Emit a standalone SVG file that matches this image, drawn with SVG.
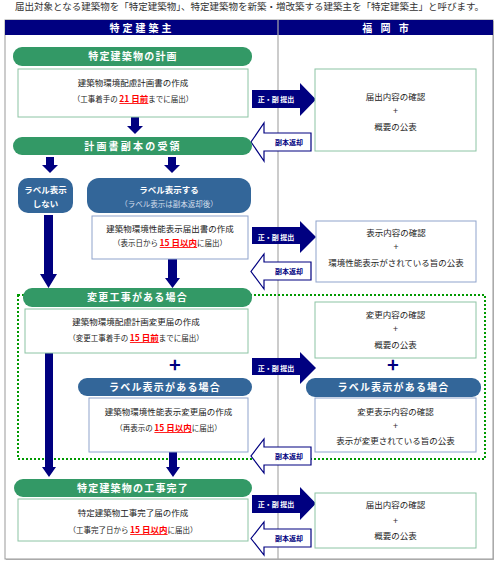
<svg xmlns="http://www.w3.org/2000/svg" width="498" height="564" viewBox="0 0 498 564">
<style>
text{font-family:"Noto Sans CJK JP","Noto Sans CJK SC",sans-serif}
.title{font-size:9.5px;fill:#333}
.hd{font-size:10px;font-weight:bold;fill:#fff;letter-spacing:3px}
.gbar{fill:#339966}
.bbar{fill:#336699}
.bt{font-size:10px;font-weight:bold;fill:#fff;letter-spacing:1.2px}
.bs{font-size:8.5px;font-weight:bold;fill:#fff}
.sub{font-size:7.5px;fill:#d4deeb}
.gbox{fill:#fff;stroke:#8cc4a4;stroke-width:1}
.blbox{fill:#fff;stroke:#8fa3cc;stroke-width:1}
.t1{font-size:8.5px;fill:#222}
.t2{font-size:7.5px;fill:#222}
.red{font-size:8.5px;font-weight:bold;fill:#ff0000;text-decoration:underline}
.plus{font-size:9px;fill:#333}
.bigplus{font-size:20px;font-weight:bold;fill:#000080}
.darr{fill:#000080}
.rarr{fill:#000080}
.rt{font-size:7px;font-weight:bold;fill:#fff}
.larr{fill:#fff;stroke:#000080;stroke-width:1.2}
.lt{font-size:7px;font-weight:bold;fill:#000080}
</style>

<text class="title" x="15" y="10">届出対象となる建築物を「特定建築物」、特定建築物を新築・増改築する建築主を「特定建築主」と呼びます。</text>

<g id="frame">
<rect x="6" y="21" width="488" height="539" fill="#bbb"/>
<rect x="5" y="20" width="488" height="539" fill="#fff" stroke="#999" stroke-width="1"/>
<rect x="5" y="20" width="488" height="15" fill="#000080"/>
<line x1="278" y1="20" x2="278" y2="559" stroke="#aaa" stroke-width="1.2"/>
<text class="hd" x="142" y="31.5" text-anchor="middle">特定建築主</text>
<text class="hd" x="387" y="31.5" text-anchor="middle" xml:space="preserve">福 岡 市</text>
</g>

<g id="change-area">
<rect x="18" y="295" width="467" height="164" fill="none" stroke="#009900" stroke-width="2" stroke-dasharray="2,2"/>
</g>

<g id="connectors">
<!-- down arrows -->
<polygon class="darr" points="131,117 139,117 139,126 143,126 135,134 127,126 131,126"/>
<polygon class="darr" points="46,157 54,157 54,165 58,165 50,173 42,165 46,165"/>
<polygon class="darr" points="168,157 176,157 176,165 180,165 172,173 164,165 168,165"/>
<polygon class="darr" points="44,215 53,215 53,274 57,274 48.5,288 40,274 44,274"/>
<polygon class="darr" points="168,259 177,259 177,278 180,278 172.5,288 165,278 168,278"/>
<polygon class="darr" points="45,353 53,353 53,467 56,467 49,477 42,467 45,467"/>
<polygon class="darr" points="169,452 177,452 177,467 180,467 173,477 166,467 169,467"/>
<!-- right submit arrows -->
<polygon class="rarr" points="252,90 300,90 300,83 316,99.5 300,116 300,108 252,108"/>
<text class="rt" x="276" y="102" text-anchor="middle">正・副 提出</text>
<polygon class="rarr" points="252,227 300,227 300,221 316,237 300,253 300,244 252,244"/>
<text class="rt" x="276" y="239.5" text-anchor="middle">正・副 提出</text>
<polygon class="rarr" points="252,358 300,358 300,352 316,368 300,384 300,375 252,375"/>
<text class="rt" x="276" y="370.5" text-anchor="middle">正・副 提出</text>
<polygon class="rarr" points="252,495 300,495 300,487 316,503.5 300,520 300,513 252,513"/>
<text class="rt" x="276" y="506.5" text-anchor="middle">正・副 提出</text>
<!-- return arrows -->
<polygon class="larr" points="311,133 264,133 264,123 251,142 264,161 264,151 311,151"/>
<text class="lt" x="289" y="144.5" text-anchor="middle">副本返却</text>
<polygon class="larr" points="311,262 264,262 264,254 251,271.5 264,289 264,280 311,280"/>
<text class="lt" x="289" y="274" text-anchor="middle">副本返却</text>
<polygon class="larr" points="311,447 264,447 264,439 251,456 264,473 264,465 311,465"/>
<text class="lt" x="289" y="458.5" text-anchor="middle">副本返却</text>
<polygon class="larr" points="311,529 264,529 264,522 251,538.5 264,555 264,547 311,547"/>
<text class="lt" x="289" y="541" text-anchor="middle">副本返却</text>
</g>

<g id="plan">
<rect class="gbar" x="13" y="47" width="239" height="19" rx="9"/>
<text class="bt" x="133" y="60" text-anchor="middle">特定建築物の計画</text>
</g>
<g id="plan-doc">
<rect class="gbox" x="18" y="69" width="230" height="48"/>
<text class="t1" x="133" y="86" text-anchor="middle">建築物環境配慮計画書の作成</text>
<text class="t2" x="133" y="102" text-anchor="middle">（工事着手の <tspan class="red">21 日前</tspan>までに届出）</text>
</g>
<g id="receive">
<rect class="gbar" x="13" y="137" width="239" height="18" rx="9"/>
<text class="bt" x="133" y="149.5" text-anchor="middle" style="letter-spacing:2.2px">計画書副本の受領</text>
</g>
<g id="no-label">
<rect class="bbar" x="18" y="178" width="55" height="35" rx="10"/>
<text class="bs" x="45.5" y="192.5" text-anchor="middle">ラベル表示</text>
<text class="bs" x="45.5" y="207" text-anchor="middle">しない</text>
</g>
<g id="label">
<rect class="bbar" x="87" y="178" width="164" height="35" rx="12"/>
<text class="bs" x="169" y="192.5" text-anchor="middle">ラベル表示する</text>
<text class="sub" x="169" y="206.5" text-anchor="middle">（ラベル表示は副本返却後）</text>
</g>
<g id="label-doc">
<rect class="blbox" x="92" y="216" width="156" height="43"/>
<text class="t1" x="170" y="232" text-anchor="middle">建築物環境性能表示届出書の作成</text>
<text class="t2" x="170" y="246" text-anchor="middle">（表示日から <tspan class="red">15 日以内</tspan>に届出）</text>
</g>
<g id="change">
<rect class="gbar" x="23" y="288" width="229" height="19" rx="9"/>
<text class="bt" x="137.5" y="301" text-anchor="middle">変更工事がある場合</text>
</g>
<g id="change-doc">
<rect class="gbox" x="25" y="309" width="223" height="44"/>
<text class="t1" x="136" y="325" text-anchor="middle">建築物環境配慮計画変更届の作成</text>
<text class="t2" x="136" y="341" text-anchor="middle">（変更工事着手の <tspan class="red">15 日前</tspan>までに届出）</text>
</g>
<text class="bigplus" x="175" y="372" text-anchor="middle">+</text>
<g id="label-change">
<rect class="bbar" x="78" y="378" width="174" height="18" rx="9"/>
<text class="bt" x="165" y="390.5" text-anchor="middle">ラベル表示がある場合</text>
</g>
<g id="label-change-doc">
<rect class="blbox" x="89" y="398" width="159" height="54"/>
<text class="t1" x="168.5" y="415" text-anchor="middle">建築物環境性能表示変更届の作成</text>
<text class="t2" x="168.5" y="431" text-anchor="middle">（再表示の <tspan class="red">15 日以内</tspan>に届出）</text>
</g>
<g id="complete">
<rect class="gbar" x="14" y="479" width="238" height="18" rx="9"/>
<text class="bt" x="133" y="491.5" text-anchor="middle">特定建築物の工事完了</text>
</g>
<g id="complete-doc">
<rect class="gbox" x="18" y="499" width="230" height="42"/>
<text class="t1" x="133" y="516" text-anchor="middle">特定建築物工事完了届の作成</text>
<text class="t2" x="133" y="533" text-anchor="middle">（工事完了日から <tspan class="red">15 日以内</tspan>に届出）</text>
</g>

<g id="city-1">
<rect class="gbox" x="315" y="69" width="161" height="82"/>
<text class="t1" x="395.5" y="100" text-anchor="middle">届出内容の確認</text>
<text class="plus" x="395.5" y="114" text-anchor="middle">+</text>
<text class="t1" x="395.5" y="130" text-anchor="middle">概要の公表</text>
</g>
<g id="city-2">
<rect class="blbox" x="316" y="221" width="160" height="61"/>
<text class="t1" x="396" y="236" text-anchor="middle">表示内容の確認</text>
<text class="plus" x="396" y="250" text-anchor="middle">+</text>
<text class="t1" x="396" y="266" text-anchor="middle">環境性能表示がされている旨の公表</text>
</g>
<g id="city-3">
<rect class="gbox" x="315" y="302" width="161" height="56"/>
<text class="t1" x="395.5" y="318" text-anchor="middle">変更内容の確認</text>
<text class="plus" x="395.5" y="332" text-anchor="middle">+</text>
<text class="t1" x="395.5" y="348" text-anchor="middle">概要の公表</text>
</g>
<text class="bigplus" x="393" y="372" text-anchor="middle">+</text>
<g id="city-label-change">
<rect class="bbar" x="306" y="378" width="175" height="19" rx="9"/>
<text class="bt" x="393.5" y="391" text-anchor="middle">ラベル表示がある場合</text>
</g>
<g id="city-4">
<rect class="blbox" x="315" y="398" width="161" height="54"/>
<text class="t1" x="395.5" y="415" text-anchor="middle">変更表示内容の確認</text>
<text class="plus" x="395.5" y="429" text-anchor="middle">+</text>
<text class="t1" x="395.5" y="444" text-anchor="middle">表示が変更されている旨の公表</text>
</g>
<g id="city-5">
<rect class="gbox" x="315" y="493" width="161" height="55"/>
<text class="t1" x="395.5" y="508" text-anchor="middle">届出内容の確認</text>
<text class="plus" x="395.5" y="524" text-anchor="middle">+</text>
<text class="t1" x="395.5" y="539" text-anchor="middle">概要の公表</text>
</g>
</svg>
